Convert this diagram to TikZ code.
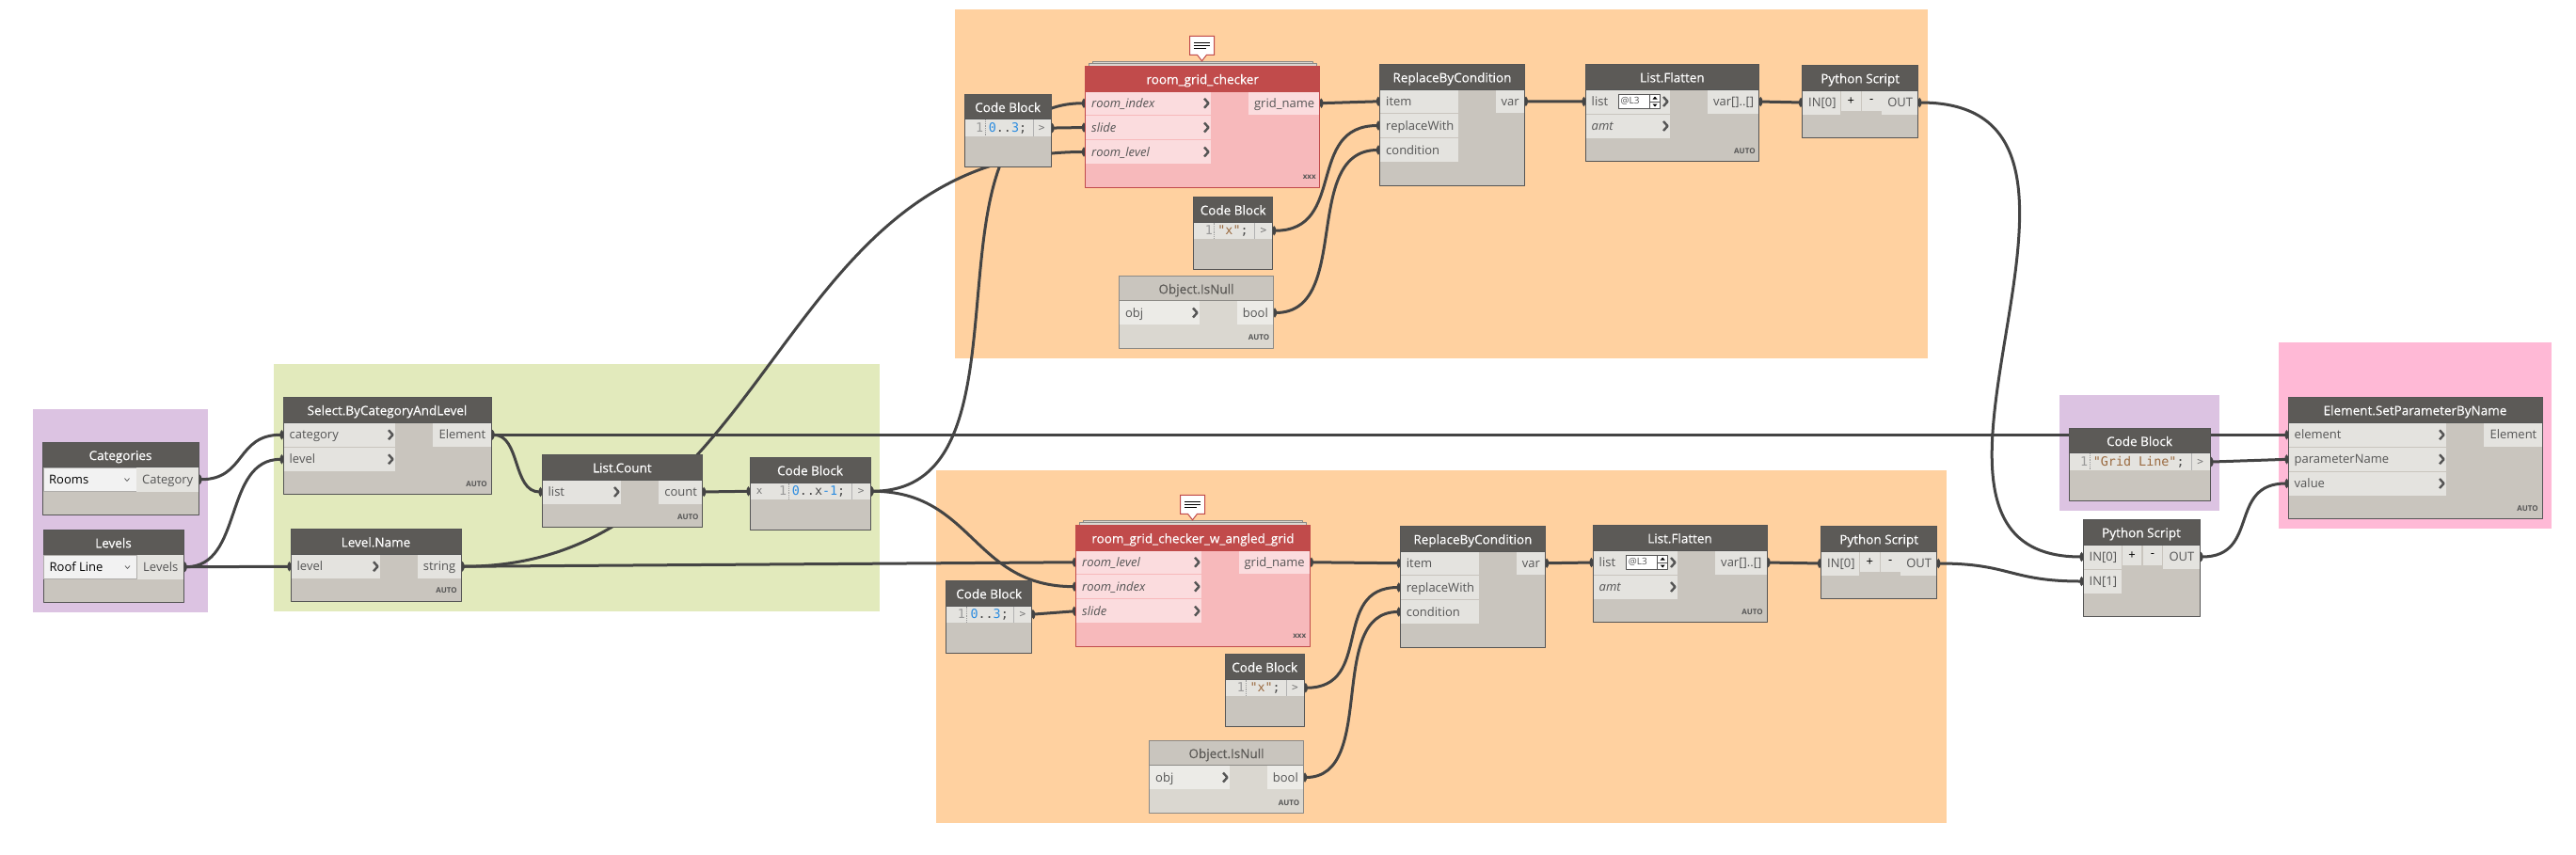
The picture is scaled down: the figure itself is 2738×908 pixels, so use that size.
\documentclass[tikz,border=0pt]{standalone}
\usepackage{fontspec}
\setmainfont{Open Sans}
\newfontfamily\codefont{DejaVu Sans Mono}
\newfontfamily\titlefont[FakeBold=0.25]{Open Sans}
\usetikzlibrary{arrows.meta}
\pgfdeclarelayer{grouplayer}
\pgfdeclarelayer{wirelayer}
\pgfsetlayers{grouplayer,wirelayer,main}
\definecolor{wirecol}{HTML}{444444}
\definecolor{edgecol}{HTML}{555555}
\definecolor{headcol}{HTML}{5C5A57}
\definecolor{bodycol}{HTML}{C9C5BE}
\definecolor{rowcol}{HTML}{E4E3DF}
\definecolor{labelcol}{HTML}{555555}
\definecolor{redhead}{HTML}{C14B4B}
\definecolor{redfill}{HTML}{F7B9BB}
\definecolor{redrow}{HTML}{FBDCDE}
\definecolor{paleedge}{HTML}{8C8A86}
\definecolor{palefill}{HTML}{DAD7D0}
\definecolor{palerow}{HTML}{ECEBE7}
\definecolor{orangegrp}{HTML}{FFD1A0}
\definecolor{purplegrp}{HTML}{DCC3E2}
\definecolor{greengrp}{HTML}{E2EABC}
\definecolor{pinkgrp}{HTML}{FFB9D6}
\definecolor{codeblue}{HTML}{2B8CE0}
\definecolor{codebrown}{HTML}{9A6A40}
\definecolor{codegray}{HTML}{999999}
\definecolor{codedark}{HTML}{4A4A4A}
\tikzset{
	dynbox/.style={anchor=north west,inner sep=0pt,outer sep=0pt},
	groupbox/.style={fill=#1},
	titletext/.style={text height=13pt,text depth=1.5pt,font=\fontsize{13.5}{15}\titlefont},
	plainbody/.style={draw=edgecol,line width=1pt,fill=bodycol},
	plainhead/.style={titletext,draw=edgecol,line width=1pt,fill=headcol,text=white},
	plainrow/.style={fill=rowcol},
	redbody/.style={draw=redhead,line width=1pt,fill=redfill},
	redhead/.style={titletext,draw=redhead,line width=1pt,fill=redhead,text=white},
	redrow/.style={fill=redrow},
	palebody/.style={draw=paleedge,line width=1pt,fill=palefill},
	palehead/.style={titletext,draw=paleedge,line width=1pt,fill=bodycol,text=headcol},
	palerow/.style={fill=palerow},
	stackbox/.style={draw=paleedge,line width=1pt,fill=palefill},
	portlabel/.style={inner sep=0pt,text=labelcol,text height=12pt,text depth=3pt,font=\fontsize{13}{15}\selectfont},
	dropbox/.style={draw=paleedge!70,line width=.8pt,fill=black!5},
	btnbox/.style={fill=rowcol,text=black,font=\fontsize{13}{15}\selectfont},
	chevron/.style={draw=edgecol,line width=2.4pt},
	autotag/.style={anchor=east,inner sep=0pt,text=labelcol,font=\fontsize{8}{9}\bfseries\selectfont},
	codetext/.style={anchor=west,inner sep=0pt,text=codedark,text height=12pt,text depth=3pt,font=\fontsize{13.4}{15}\codefont},
	cellbox/.style={fill=rowcol,text=labelcol!80,font=\fontsize{11}{14}\codefont},
	levelbox/.style={draw=edgecol,line width=.8pt,fill=white,text=labelcol},
	notebox/.style={draw=redhead,line width=1pt,fill=white,line join=miter},
	noteline/.style={draw=black,line width=1pt},
	wire/.style={draw=wirecol,line width=3pt,{Ellipse[length=4pt,width=9pt]}-{Ellipse[length=4pt,width=9pt]}}
}
% name, style, x1, y1, x2, y2, text
\newcommand{\dbox}[7]{\node[dynbox,#2,minimum width={(#5-#3)*1pt},minimum height={(#6-#4)*1pt}] (#1) at (#3,#4) {#7};}
% kind, name, x1, y1, x2, y2, bottom of header, title
\newcommand{\dblock}[8][plain]{\dbox{#2}{#1body}{#3}{#4}{#5}{#6}{}\dbox{#2h}{#1head}{#3}{#4}{#5}{#7}{#8}}
\newcommand{\plainport}[7][plain]{\dbox{#2}{#1row}{#3}{#4}{#5}{#6}{}\node[portlabel,anchor=west] (#2t) at ([shift={(6,0)}]#2.west) {#7};}
\newcommand{\inport}[7][plain]{\plainport[#1]{#2}{#3}{#4}{#5}{#6}{#7}\draw[chevron] ([shift={(-7,-5)}]#2.east) -- ++(4.5,5) -- ++(-4.5,5);}
\newcommand{\outport}[7][plain]{\dbox{#2}{#1row}{#3}{#4}{#5}{#6}{}\node[portlabel,anchor=east] (#2t) at ([shift={(-5,0)}]#2.east) {#7};}
\newcommand{\autolabel}[2]{\node[autotag] (#1a) at ([shift={(-4,-11.5)}]#1.south east) {#2};}
% name, x1, y1, x of the > cell, x2, y2, x of the dotted line, code
\newcommand{\coderow}[8]{\dbox{#1}{plainrow}{#2}{#3}{#4}{#6}{}\dbox{#1o}{cellbox}{#4}{#3}{#5}{#6}{>}
	\draw[black!30,line width=.8pt] (#4,#3) -- (#4,#6);
	\draw[codegray,line width=.8pt,densely dotted] (#7,#3) -- (#7,#6);
	\node[codetext,text=codegray] (#1n) at ([shift={(-10,0)}]#7,#3/2+#6/2) {1};
	\node[codetext] (#1c) at ([shift={(3.6,0)}]#7,#3/2+#6/2) {#8};}
\newcommand{\dropdown}[6]{\dbox{#1}{dropbox}{#2}{#3}{#4}{#5}{}\node[portlabel,anchor=west,text=black] (#1t) at ([shift={(6,0)}]#1.west) {#6};
	\draw[labelcol,line width=.7pt] ([shift={(-12.5,-1.5)}]#1.east) -- ++(2.5,3) -- ++(2.5,-3);}
\newcommand{\levelspin}[5]{\dbox{#1}{levelbox}{#2}{#3}{#4}{#5}{}\node[portlabel,anchor=west,font=\fontsize{10}{12}\selectfont,text height=7pt,text depth=2pt] (#1t) at ([shift={(2,0)}]#1.west) {@L3};
	\draw[edgecol,line width=.7pt] ([shift={(-11,-7.3)}]#1.east) -- ++(0,14.6) ([shift={(-11,0)}]#1.east) -- ++(11,0);
	\fill[black] ([shift={(-8,-2.5)}]#1.east) -- ++(5,0) -- ++(-2.5,-3) -- cycle;
	\fill[black] ([shift={(-8,2.5)}]#1.east) -- ++(5,0) -- ++(-2.5,3) -- cycle;}
\newcommand{\notetag}[3]{\coordinate (#1) at (#2,#3);
	\draw[notebox] (#1) -- ++(26,0) -- ++(0,20) -- ++(-8,0) -- ++(-5,6.5) -- ++(-5,-6.5) -- ++(-8,0) -- cycle;
	\draw[noteline] ([shift={(4.5,7)}]#1) -- ++(17,0) ([shift={(4.5,10.3)}]#1) -- ++(17,0) ([shift={(4.5,13.6)}]#1) -- ++(13,0);}
\newcommand{\cnum}[1]{\textcolor{codeblue}{#1}}
\newcommand{\cstr}[1]{\textcolor{codebrown}{#1}}
\begin{document}
\begin{tikzpicture}[x=1pt,y=-1pt,line join=round,>=stealth]
	\useasboundingbox (0,0) rectangle (2738,908);
	\begin{pgfonlayer}{grouplayer}
		\dbox{grpTop}{groupbox=orangegrp}{1015}{10}{2049}{381}{}
		\dbox{grpLow}{groupbox=orangegrp}{995}{500}{2069}{875}{}
		\dbox{grpIn}{groupbox=purplegrp}{35}{435}{221}{651}{}
		\dbox{grpSel}{groupbox=greengrp}{291}{387}{935}{650}{}
		\dbox{grpName}{groupbox=purplegrp}{2189}{420}{2359}{543}{}
		\dbox{grpSet}{groupbox=pinkgrp}{2422}{364}{2712}{562}{}
	\end{pgfonlayer}
	% inputs on the left
	\dblock{cat}{45}{470}{211}{547.7}{496.7}{Categories}
	\dropdown{catDrop}{46}{497.3}{145}{522.7}{Rooms}
	\outport{catOut}{145}{497}{210.5}{522.5}{Category}
	\dblock{lvl}{46}{563}{195}{640.7}{590}{Levels}
	\dropdown{lvlDrop}{46.5}{590.3}{145.5}{615.7}{Roof Line}
	\outport{lvlOut}{145.5}{590}{194.5}{615.5}{Levels}
	\dblock{sel}{301}{422}{522}{525.7}{449}{Select.ByCategoryAndLevel}
	\inport{selCat}{301.5}{449.5}{420}{475}{category}
	\inport{selLvl}{301.5}{475.5}{420}{501}{level}
	\outport{selOut}{460}{449.5}{521.5}{475}{Element}
	\autolabel{sel}{AUTO}
	\dblock{name}{309}{562.3}{490}{639.3}{589}{Level.Name}
	\inport{nameIn}{309.5}{589.5}{404}{615}{level}
	\outport{nameOut}{444}{589.5}{489.5}{615}{string}
	\autolabel{name}{AUTO}
	\dblock{cnt}{576}{483}{746.7}{560.7}{510}{List.Count}
	\inport{cntIn}{576.5}{510.5}{660}{535.5}{list}
	\outport{cntOut}{700}{510.5}{746.2}{535.5}{count}
	\autolabel{cnt}{AUTO}
	\dblock{cbX}{797}{486}{925}{563.7}{513}{Code Block}
	\dbox{cbXin}{cellbox}{797.5}{513.5}{817}{531}{x}
	\coderow{cbXr}{817}{513.5}{905.7}{924.5}{531}{838}{\cnum{0}..x\cnum{-1};}
	% upper group
	\dbox{rcS2}{stackbox}{1161.2}{65.3}{1395}{75}{}
	\dbox{rcS1}{stackbox}{1157.4}{67.3}{1399}{75}{}
	\dblock[red]{rc}{1153.5}{70}{1402.9}{199.7}{97}{room\_grid\_checker}
	\inport[red]{rcIdx}{1154}{97.5}{1287}{122}{\textit{room\_index}}
	\inport[red]{rcSlide}{1154}{123}{1287}{148}{\textit{slide}}
	\inport[red]{rcLvl}{1154}{149}{1287}{174}{\textit{room\_level}}
	\outport[red]{rcOut}{1327}{97.5}{1402.4}{122}{grid\_name}
	\autolabel{rc}{xxx}
	\notetag{rcNote}{1264.5}{38.3}
	\dblock{cbA}{1025.3}{100}{1117}{177.7}{126.7}{Code Block}
	\coderow{cbAr}{1025.8}{127.2}{1098}{1116.5}{145}{1047}{\cnum{0}..\cnum{3};}
	\dblock{cbB}{1268.6}{209.3}{1352.7}{286.7}{236}{Code Block}
	\coderow{cbBr}{1269.1}{236.5}{1333.5}{1352.2}{254}{1290.6}{\cstr{"x"};}
	\dblock[pale]{nulA}{1189.4}{293.7}{1353.5}{370.3}{319.3}{Object.IsNull}
	\inport[pale]{nulAin}{1189.9}{320}{1275}{345}{obj}
	\outport[pale]{nulAout}{1315}{320}{1353}{345}{bool}
	\autolabel{nulA}{AUTO}
	\dblock{rbA}{1466.5}{68.3}{1620.4}{197.3}{95}{ReplaceByCondition}
	\plainport{rbAitem}{1467}{95.5}{1549.8}{120}{item}
	\plainport{rbAwith}{1467}{121}{1549.8}{146}{replaceWith}
	\plainport{rbAcond}{1467}{147}{1549.8}{172}{condition}
	\outport{rbAout}{1589.8}{95.5}{1619.9}{120}{var}
	\dblock{flA}{1685}{68.3}{1869.8}{171.7}{95}{List.Flatten}
	\inport{flAlist}{1685.5}{95.5}{1775}{120.5}{list}
	\inport{flAamt}{1685.5}{121.5}{1775}{146.5}{\textit{amt}}
	\outport{flAout}{1815}{95.5}{1869.3}{120.5}{var[]..[]}
	\levelspin{flAlvl}{1720.4}{100.7}{1764.5}{115.3}
	\autolabel{flA}{AUTO}
	\dblock{pyA}{1915.5}{69.3}{2038.8}{146.7}{96}{Python Script}
	\plainport{pyAin}{1916}{96.5}{1956}{121.5}{IN[0]}
	\dbox{pyAadd}{btnbox}{1957}{96.5}{1977.5}{118}{+}
	\dbox{pyAsub}{btnbox}{1979}{96.5}{1999.6}{118}{-}
	\outport{pyAout}{2000}{96.5}{2038.3}{121.5}{OUT}
	% lower group
	\dbox{rgS2}{stackbox}{1151.3}{553.3}{1384.6}{563}{}
	\dbox{rgS1}{stackbox}{1147.4}{555.7}{1388.5}{563}{}
	\dblock[red]{rg}{1143.5}{558.3}{1392.4}{687.7}{585}{room\_grid\_checker\_w\_angled\_grid}
	\inport[red]{rgLvl}{1144}{585.5}{1277}{610}{\textit{room\_level}}
	\inport[red]{rgIdx}{1144}{611.3}{1277}{636}{\textit{room\_index}}
	\inport[red]{rgSlide}{1144}{637.3}{1277}{662}{\textit{slide}}
	\outport[red]{rgOut}{1317.4}{585.5}{1391.9}{610}{grid\_name}
	\autolabel{rg}{xxx}
	\notetag{rgNote}{1254.5}{526.3}
	\dblock{cbC}{1005.6}{617.3}{1096.7}{694.3}{644}{Code Block}
	\coderow{cbCr}{1006.1}{644.5}{1077.6}{1096.2}{662}{1027.7}{\cnum{0}..\cnum{3};}
	\dblock{cbD}{1302}{695.3}{1386.3}{772.7}{722}{Code Block}
	\coderow{cbDr}{1302.5}{722.5}{1367}{1385.8}{740}{1324.7}{\cstr{"x"};}
	\dblock[pale]{nulB}{1221.5}{787.3}{1385.5}{864.7}{813.3}{Object.IsNull}
	\inport[pale]{nulBin}{1222}{814}{1307}{839}{obj}
	\outport[pale]{nulBout}{1347}{814}{1385}{839}{bool}
	\autolabel{nulB}{AUTO}
	\dblock{rbB}{1488.2}{559.3}{1642.6}{688.3}{586}{ReplaceByCondition}
	\plainport{rbBitem}{1488.7}{586.5}{1572}{611}{item}
	\plainport{rbBwith}{1488.7}{612}{1572}{637}{replaceWith}
	\plainport{rbBcond}{1488.7}{638}{1572}{663}{condition}
	\outport{rbBout}{1612}{586.5}{1642.1}{611}{var}
	\dblock{flB}{1693}{558.3}{1878}{661.7}{585}{List.Flatten}
	\inport{flBlist}{1693.5}{585.5}{1783}{610.5}{list}
	\inport{flBamt}{1693.5}{611.5}{1783}{636.5}{\textit{amt}}
	\outport{flBout}{1823}{585.5}{1877.5}{610.5}{var[]..[]}
	\levelspin{flBlvl}{1728.6}{590.7}{1772.7}{605.3}
	\autolabel{flB}{AUTO}
	\dblock{pyB}{1935.5}{559.3}{2058.8}{636.7}{586}{Python Script}
	\plainport{pyBin}{1936}{586.5}{1976}{611.5}{IN[0]}
	\dbox{pyBadd}{btnbox}{1977}{586.5}{1997.5}{608}{+}
	\dbox{pyBsub}{btnbox}{1999}{586.5}{2019.6}{608}{-}
	\outport{pyBout}{2020}{586.5}{2058.3}{611.5}{OUT}
	% right side
	\dblock{cbG}{2199}{455}{2349}{532.7}{481.7}{Code Block}
	\coderow{cbGr}{2199.5}{482.2}{2329}{2348.5}{500}{2221}{\cstr{"Grid Line"};}
	\dblock{pyC}{2214}{552}{2338}{655.7}{579}{Python Script}
	\plainport{pyCa}{2214.5}{579.5}{2255.4}{604.5}{IN[0]}
	\plainport{pyCb}{2214.5}{605.5}{2255.4}{630.5}{IN[1]}
	\dbox{pyCadd}{btnbox}{2256}{579.5}{2276}{601}{+}
	\dbox{pyCsub}{btnbox}{2278}{579.5}{2298}{601}{-}
	\outport{pyCout}{2299}{579.5}{2337.5}{604.5}{OUT}
	\dblock{set}{2432}{422}{2702}{551.7}{449}{Element.SetParameterByName}
	\inport{setElem}{2432.5}{449.5}{2600}{475}{element}
	\inport{setPar}{2432.5}{475.5}{2600}{501}{parameterName}
	\inport{setVal}{2432.5}{501.5}{2600}{526.5}{value}
	\outport{setOut}{2640}{449.5}{2701.5}{475}{Element}
	\autolabel{set}{AUTO}
	\begin{pgfonlayer}{wirelayer}
		\draw[wire] (catOut.east) .. controls +(51,0) and +(-51,0) .. (selCat.west);
		\draw[wire] (lvlOut.east) .. controls +(65,0) and +(-65,0) .. (selLvl.west);
		\draw[wire] (lvlOut.east) -- (nameIn.west);
		\draw[wire] (selOut.east) .. controls +(32,0) and +(-32,0) .. (cntIn.west);
		\draw[wire] (selOut.east) -- (setElem.west);
		\draw[wire] (nameOut.east) .. controls +(335,0) and +(-335,0) .. (rcLvl.west);
		\draw[wire] (nameOut.east) -- (rgLvl.west);
		\draw[wire] (cntOut.east) -- (cbXin.west);
		\draw[wire] (cbXro.east) .. controls +(190,0) and +(-190,0) .. (rcIdx.west);
		\draw[wire] (cbXro.east) .. controls +(110,0) and +(-110,0) .. (rgIdx.west);
		\draw[wire] (cbAro.east) -- (rcSlide.west);
		\draw[wire] (rcOut.east) -- (rbAitem.west);
		\draw[wire] (cbBro.east) .. controls +(80,0) and +(-80,0) .. (rbAwith.west);
		\draw[wire] (nulAout.east) .. controls +(85,0) and +(-85,0) .. (rbAcond.west);
		\draw[wire] (rbAout.east) -- (flAlist.west);
		\draw[wire] (flAout.east) -- (pyAin.west);
		\draw[wire] (pyAout.east) .. controls +(261,0) and +(-244,0) .. (pyCa.west);
		\draw[wire] (cbCro.east) -- (rgSlide.west);
		\draw[wire] (rgOut.east) -- (rbBitem.west);
		\draw[wire] (cbDro.east) .. controls +(75,0) and +(-75,0) .. (rbBwith.west);
		\draw[wire] (nulBout.east) .. controls +(80,0) and +(-80,0) .. (rbBcond.west);
		\draw[wire] (rbBout.east) -- (flBlist.west);
		\draw[wire] (flBout.east) -- (pyBin.west);
		\draw[wire] (pyBout.east) .. controls +(78,0) and +(-78,0) .. (pyCb.west);
		\draw[wire] (cbGro.east) -- (setPar.west);
		\draw[wire] (pyCout.east) .. controls +(65,0) and +(-65,0) .. (setVal.west);
	\end{pgfonlayer}
\end{tikzpicture}
\end{document}
